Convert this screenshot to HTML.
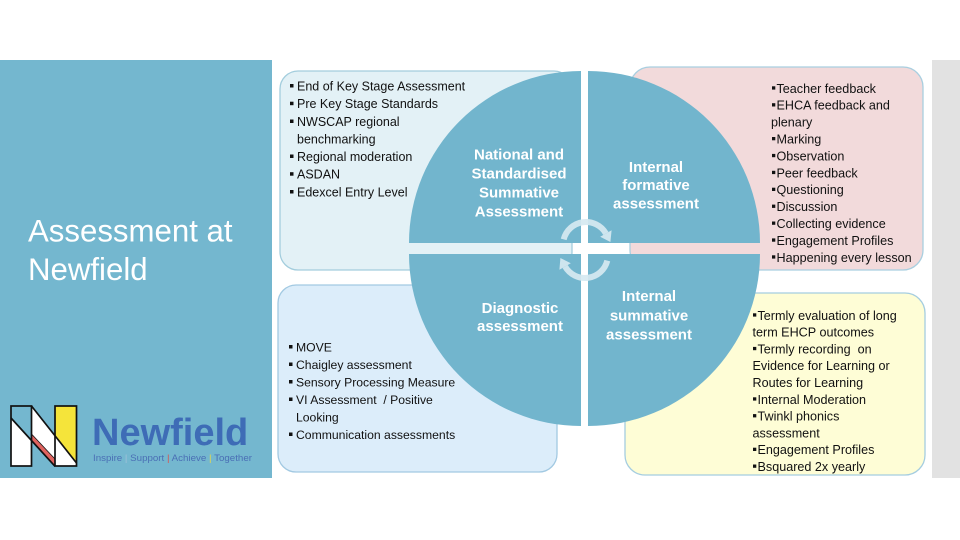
<!DOCTYPE html>
<html>
<head>
<meta charset="utf-8">
<style>
  html, body { margin: 0; padding: 0; background: #ffffff; }
  body { width: 960px; height: 540px; overflow: hidden; }
  svg { display: block; }
  text { font-family: "Liberation Sans", Arial, sans-serif; }
</style>
</head>
<body>
<svg width="960" height="540" viewBox="0 0 960 540" xmlns="http://www.w3.org/2000/svg">
  <rect x="0" y="0" width="960" height="540" fill="#ffffff"/>

  <!-- Left title panel -->
  <rect x="0" y="60" width="272" height="418" fill="#74b7cf"/>
  <!-- Right gray strip -->
  <rect x="932" y="60" width="28" height="418" fill="#e2e2e2"/>

  <!-- Title -->
  <text x="28" y="241.5" font-size="31.2" fill="#ffffff">Assessment at</text>
  <text x="28" y="280" font-size="31.2" fill="#ffffff">Newfield</text>

  <!-- Logo icon -->
  <g>
    <rect x="11" y="406" width="20.5" height="60" fill="#ffffff"/>
    <polygon points="11,406 31.5,406 31.5,440.6 11,418" fill="#74b7cf"/>
    <polygon points="31.5,406 55,435.8 55,466.3 31.5,440.6" fill="#ffffff"/>
    <polygon points="31.5,434 31.5,440.6 55,466.3 55,459" fill="#e0635f"/>
    <rect x="55" y="406" width="21.5" height="60" fill="#f5e43a"/>
    <polygon points="55,435.8 76.5,463 76.5,466 55,466" fill="#ffffff"/>
    <g fill="none" stroke="#111" stroke-width="1.7" stroke-linejoin="miter">
      <rect x="11" y="406" width="20.5" height="60"/>
      <rect x="55" y="406" width="21.5" height="60"/>
      <line x1="11" y1="418" x2="55" y2="466.3"/>
      <line x1="31.5" y1="406" x2="76.5" y2="463"/>
    </g>
    <line x1="31.5" y1="434" x2="55" y2="459" stroke="#111" stroke-width="0.8"/>
  </g>
  <!-- Logo text -->
  <text x="92" y="445" font-size="38" font-weight="bold" fill="#3e6cb6">Newfield</text>
  <text x="93" y="461" font-size="9.5" fill="#4a6fb5" textLength="159" lengthAdjust="spacingAndGlyphs">Inspire <tspan fill="#9fc2d8">|</tspan> Support <tspan fill="#d9534f">|</tspan> Achieve <tspan fill="#e8d84a">|</tspan> Together</text>

  <!-- Boxes -->
  <rect x="280" y="71" width="292" height="199" rx="18" ry="18" fill="#e3f1f6" stroke="#a3cddd" stroke-width="1.3"/>
  <rect x="630" y="67" width="293" height="203" rx="20" ry="20" fill="#f2dadb" stroke="#a9cfe0" stroke-width="1.3"/>
  <rect x="278" y="285" width="279" height="187" rx="18" ry="18" fill="#dcedfa" stroke="#a2c9e2" stroke-width="1.3"/>
  <rect x="625" y="293" width="300" height="182" rx="20" ry="20" fill="#fefdd6" stroke="#a5cde0" stroke-width="1.3"/>

  <!-- Quadrants -->
  <g fill="#72b5cd">
    <path d="M581,243 L409,243 A172,172 0 0 1 581,71 Z"/>
    <path d="M588,243 L588,71 A172,172 0 0 1 760,243 Z"/>
    <path d="M581,254 L581,426 A172,172 0 0 1 409,254 Z"/>
    <path d="M588,254 L760,254 A172,172 0 0 1 588,426 Z"/>
  </g>

  <!-- Quadrant labels -->
  <g font-size="15" font-weight="bold" fill="#ffffff" text-anchor="middle">
    <text x="519" y="159.5">National and</text>
    <text x="519" y="178.5">Standardised</text>
    <text x="519" y="197.5">Summative</text>
    <text x="519" y="216.5">Assessment</text>

    <text x="656" y="172">Internal</text>
    <text x="656" y="190">formative</text>
    <text x="656" y="208.5">assessment</text>

    <text x="520" y="313">Diagnostic</text>
    <text x="520" y="331">assessment</text>

    <text x="649" y="301">Internal</text>
    <text x="649" y="320.3">summative</text>
    <text x="649" y="339.3">assessment</text>
  </g>

  <!-- Circular arrows -->
  <g fill="#d6e9f1" fill-opacity="0.92" stroke="none">
    <path d="M563.7,239.4 A23,23 0 0 1 605.9,233.5" fill="none" stroke="#d6e9f1" stroke-opacity="0.92" stroke-width="6"/>
    <polygon points="611.6,230.2 600.2,236.8 610.4,242"/>
    <path d="M607.3,260.6 A23,23 0 0 1 565.1,266.5" fill="none" stroke="#d6e9f1" stroke-opacity="0.92" stroke-width="6"/>
    <polygon points="559.4,269.8 570.8,263.2 560.4,258"/>
  </g>

  <!-- Top-left list -->
  <g font-size="12.5" fill="#111">
    <rect x="290" y="84" width="3.5" height="3.5"/>
    <text x="297" y="90.5">End of Key Stage Assessment</text>
    <rect x="290" y="101.7" width="3.5" height="3.5"/>
    <text x="297" y="108.2">Pre Key Stage Standards</text>
    <rect x="290" y="119.5" width="3.5" height="3.5"/>
    <text x="297" y="126">NWSCAP regional</text>
    <text x="297" y="143.5">benchmarking</text>
    <rect x="290" y="154.5" width="3.5" height="3.5"/>
    <text x="297" y="161">Regional moderation</text>
    <rect x="290" y="172.2" width="3.5" height="3.5"/>
    <text x="297" y="178.7">ASDAN</text>
    <rect x="290" y="190" width="3.5" height="3.5"/>
    <text x="297" y="196.5">Edexcel Entry Level</text>
  </g>

  <!-- Pink list -->
  <g font-size="12.6" fill="#111">
    <rect x="772" y="86.3" width="3.3" height="3.3"/>
    <text x="776.5" y="92.8">Teacher feedback</text>
    <rect x="772" y="103.2" width="3.3" height="3.3"/>
    <text x="776.5" y="109.7">EHCA feedback and</text>
    <text x="771" y="126.6">plenary</text>
    <rect x="772" y="137" width="3.3" height="3.3"/>
    <text x="776.5" y="143.5">Marking</text>
    <rect x="772" y="153.9" width="3.3" height="3.3"/>
    <text x="776.5" y="160.4">Observation</text>
    <rect x="772" y="170.8" width="3.3" height="3.3"/>
    <text x="776.5" y="177.3">Peer feedback</text>
    <rect x="772" y="187.7" width="3.3" height="3.3"/>
    <text x="776.5" y="194.2">Questioning</text>
    <rect x="772" y="204.6" width="3.3" height="3.3"/>
    <text x="776.5" y="211.1">Discussion</text>
    <rect x="772" y="221.5" width="3.3" height="3.3"/>
    <text x="776.5" y="228">Collecting evidence</text>
    <rect x="772" y="238.4" width="3.3" height="3.3"/>
    <text x="776.5" y="244.9">Engagement Profiles</text>
    <rect x="772" y="255.3" width="3.3" height="3.3"/>
    <text x="776.5" y="261.8">Happening every lesson</text>
  </g>

  <!-- Bottom-left list -->
  <g font-size="12.2" fill="#111">
    <rect x="289" y="345" width="3.5" height="3.5"/>
    <text x="296" y="351.3">MOVE</text>
    <rect x="289" y="362.5" width="3.5" height="3.5"/>
    <text x="296" y="368.8">Chaigley assessment</text>
    <rect x="289" y="380" width="3.5" height="3.5"/>
    <text x="296" y="386.3">Sensory Processing Measure</text>
    <rect x="289" y="397.5" width="3.5" height="3.5"/>
    <text x="296" y="403.8" xml:space="preserve">VI Assessment  / Positive</text>
    <text x="296" y="421.3">Looking</text>
    <rect x="289" y="432.5" width="3.5" height="3.5"/>
    <text x="296" y="438.8">Communication assessments</text>
  </g>

  <!-- Yellow list -->
  <g font-size="12.6" fill="#111">
    <rect x="753" y="313.3" width="3.3" height="3.3"/>
    <text x="757.5" y="319.8">Termly evaluation of long</text>
    <text x="752.5" y="336.6">term EHCP outcomes</text>
    <rect x="753" y="346.9" width="3.3" height="3.3"/>
    <text x="757.5" y="353.4" xml:space="preserve">Termly recording  on</text>
    <text x="752.5" y="370.2">Evidence for Learning or</text>
    <text x="752.5" y="387">Routes for Learning</text>
    <rect x="753" y="397.3" width="3.3" height="3.3"/>
    <text x="757.5" y="403.8">Internal Moderation</text>
    <rect x="753" y="414.1" width="3.3" height="3.3"/>
    <text x="757.5" y="420.6">Twinkl phonics</text>
    <text x="752.5" y="437.4">assessment</text>
    <rect x="753" y="447.7" width="3.3" height="3.3"/>
    <text x="757.5" y="454.2">Engagement Profiles</text>
    <rect x="753" y="464.5" width="3.3" height="3.3"/>
    <text x="757.5" y="471">Bsquared 2x yearly</text>
  </g>
</svg>
</body>
</html>
